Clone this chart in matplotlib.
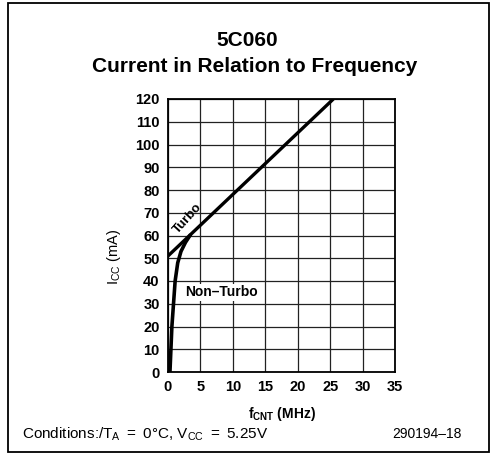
import matplotlib
matplotlib.use("Agg")
from matplotlib import pyplot as plt
from matplotlib.patches import Rectangle
import numpy as np

plt.rcParams['font.family'] = ['Liberation Sans', 'DejaVu Sans']
plt.rcParams['mathtext.default'] = 'regular'

# donnees
turbo_f = [0.0, 25.5]
turbo_i = [51, 120]

non_turbo_f = [0.3, 0.45, 0.6, 0.85, 1.1, 1.5, 2.0, 2.7, 3.5]
non_turbo_i = [0, 10, 20, 30, 40, 48, 53, 57, 60.5]

x_ticks = [0, 5, 10, 15, 20, 25, 30, 35]
y_ticks = [0, 10, 20, 30, 40, 50, 60, 70, 80, 90, 100, 110, 120]

fig = plt.figure(figsize=(4.97, 4.63), dpi=100)
W, H = 497, 463

# cadre exterieur
fig.patches.append(Rectangle((8 / W, 1 - 452 / H), (489 - 8) / W, (452 - 3) / H,
                             transform=fig.transFigure, fill=False,
                             edgecolor='k', linewidth=1.3))

ax = fig.add_axes([168 / W, 1 - 372 / H, (395 - 168) / W, (372 - 99) / H])
ax.set_xlim(0, 35)
ax.set_ylim(0, 120)
ax.set_xticks(x_ticks)
ax.set_yticks(y_ticks)
ax.tick_params(length=0, labelsize=10.5, pad=6)
for lab in ax.get_xticklabels() + ax.get_yticklabels():
    lab.set_fontweight('bold')
ax.grid(True, color='#222222', linewidth=0.9)
for s in ax.spines.values():
    s.set_linewidth(1.3)

ax.plot(turbo_f, turbo_i, color='k', linewidth=2.4, solid_capstyle='butt')
ax.plot(non_turbo_f, non_turbo_i, color='k', linewidth=2.6, solid_capstyle='butt')

ax.text(3.0, 67.5, 'Turbo', rotation=48, ha='center', va='center',
        fontsize=9.5, fontweight='bold')
ax.text(8.3, 35, 'Non\u2013Turbo', ha='center', va='center', fontsize=10,
        fontweight='bold',
        bbox=dict(facecolor='white', edgecolor='none', pad=1))

ax.set_xlabel(r'f$_{CNT}$ (MHz)', fontsize=10, fontweight='bold', labelpad=8)
ax.set_ylabel(r'I$_{CC}$ (mA)', fontsize=10.5, labelpad=12)
ax.yaxis.set_label_coords(-0.2, 0.42)

fig.text(247 / W, 1 - 40 / H, '5C060', ha='center', va='center',
         fontsize=15, fontweight='bold')
fig.text(255 / W, 1 - 66 / H, 'Current in Relation to Frequency', ha='center',
         va='center', fontsize=15, fontweight='bold')

fig.text(22 / W, 1 - 434 / H,
         r'Conditions:/T$_A$ $=$ 0°C, V$_{CC}$ $=$ 5.25V',
         ha='left', va='center', fontsize=11)
fig.text(462 / W, 1 - 434 / H, '290194\u201318', ha='right', va='center',
         fontsize=10)

fig.savefig('out.png', dpi=100)
